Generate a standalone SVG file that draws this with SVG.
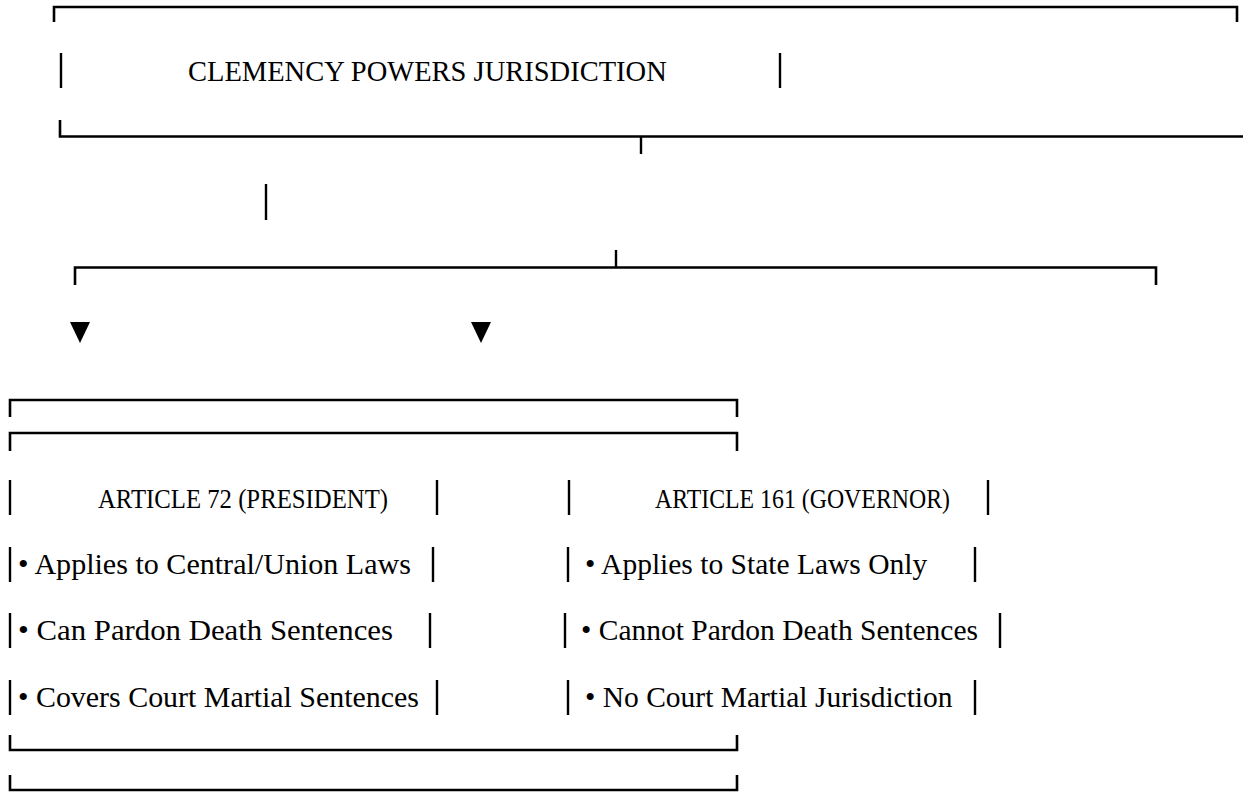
<svg xmlns="http://www.w3.org/2000/svg" width="1243" height="796" viewBox="0 0 1243 796">
<style>
.ln{stroke:#000;stroke-width:2.6;fill:none;stroke-linecap:butt}
.bar{stroke:#000;stroke-width:2.4}
text{font-family:"Liberation Serif","Times New Roman",serif;fill:#000}
.t{font-size:28.5px}
.h{font-size:28px}
.b{font-size:29.5px}
</style>
<rect width="1243" height="796" fill="#fff"/>
<g id="title">
<path class="ln" d="M54,22 V7 H1237 V22"/>
<line class="bar" x1="61" y1="53" x2="61" y2="88"/>
<text class="t" x="188" y="81">CLEMENCY POWERS JURISDICTION</text>
<line class="bar" x1="780" y1="53" x2="780" y2="88"/>
<path class="ln" d="M60,120 V136.5 H1243"/>
</g>
<g id="connectors">
<line class="bar" x1="641" y1="136" x2="641" y2="154"/>
<line class="bar" x1="266" y1="184" x2="266" y2="220"/>
<path class="ln" d="M75,285 V267.5 H1156 V285"/>
<line class="bar" x1="616" y1="250" x2="616" y2="268"/>
<polygon points="70,322 90,322 80,343"/>
<polygon points="471,322 491,322 481,343"/>
</g>
<g id="president">
<path class="ln" d="M10,417 V400 H737 V417"/>
<path class="ln" d="M10,451 V433 H737 V451"/>
<line class="bar" x1="10" y1="480" x2="10" y2="515"/>
<text class="h" x="98" y="508" textLength="290" lengthAdjust="spacingAndGlyphs">ARTICLE 72 (PRESIDENT)</text>
<line class="bar" x1="437" y1="480" x2="437" y2="515"/>
<line class="bar" x1="10" y1="547" x2="10" y2="582"/>
<text class="b" x="18" y="574" textLength="393" lengthAdjust="spacingAndGlyphs">• Applies to Central/Union Laws</text>
<line class="bar" x1="433" y1="547" x2="433" y2="582"/>
<line class="bar" x1="10" y1="613" x2="10" y2="648"/>
<text class="b" x="18" y="640" textLength="375" lengthAdjust="spacingAndGlyphs">• Can Pardon Death Sentences</text>
<line class="bar" x1="430" y1="613" x2="430" y2="648"/>
<line class="bar" x1="10" y1="680" x2="10" y2="715"/>
<text class="b" x="18" y="707" textLength="401" lengthAdjust="spacingAndGlyphs">• Covers Court Martial Sentences</text>
<line class="bar" x1="437" y1="680" x2="437" y2="715"/>
<path class="ln" d="M10,735 V750 H737 V735"/>
<path class="ln" d="M10,775 V790 H737 V775"/>
</g>
<g id="governor">
<line class="bar" x1="569" y1="480" x2="569" y2="515"/>
<text class="h" x="655" y="508" textLength="295" lengthAdjust="spacingAndGlyphs">ARTICLE 161 (GOVERNOR)</text>
<line class="bar" x1="988" y1="480" x2="988" y2="515"/>
<line class="bar" x1="568" y1="547" x2="568" y2="582"/>
<text class="b" x="585" y="574">• Applies to State Laws Only</text>
<line class="bar" x1="975" y1="547" x2="975" y2="582"/>
<line class="bar" x1="565" y1="613" x2="565" y2="648"/>
<text class="b" x="581" y="640">• Cannot Pardon Death Sentences</text>
<line class="bar" x1="1000" y1="613" x2="1000" y2="648"/>
<line class="bar" x1="568" y1="680" x2="568" y2="715"/>
<text class="b" x="585" y="707">• No Court Martial Jurisdiction</text>
<line class="bar" x1="975" y1="680" x2="975" y2="715"/>
</g>
</svg>
